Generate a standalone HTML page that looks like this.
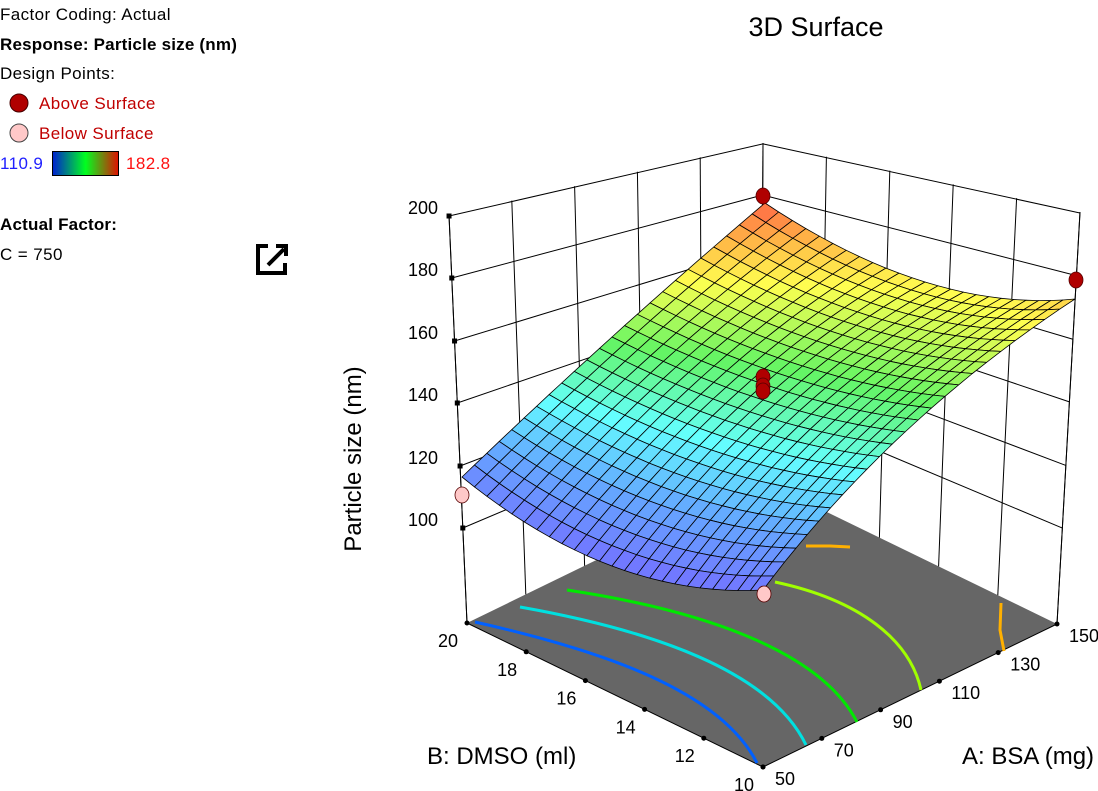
<!DOCTYPE html>
<html><head><meta charset="utf-8"><style>
body{margin:0;background:#fff;width:1098px;height:791px;overflow:hidden;font-family:"Liberation Sans",sans-serif;}
svg{position:absolute;left:0;top:0}
</style></head><body>
<svg id="s" width="1098" height="791" viewBox="0 0 1098 791" xmlns="http://www.w3.org/2000/svg" font-family="Liberation Sans, sans-serif">
<defs><linearGradient id="lg" x1="0" x2="1" y1="0" y2="0">
<stop offset="0" stop-color="#0020d0"/><stop offset="0.5" stop-color="#00ff20"/><stop offset="1" stop-color="#e01000"/></linearGradient></defs>
<g font-size="17" letter-spacing="0.4">
<text x="0" y="20" fill="#000">Factor Coding: Actual</text>
<text x="0" y="50" font-weight="bold" fill="#000" letter-spacing="0.2">Response: Particle size (nm)</text>
<text x="0" y="79" fill="#000">Design Points:</text>
<text x="39" y="109" fill="#c00000">Above Surface</text>
<text x="39" y="139" fill="#c00000">Below Surface</text>
<text x="0" y="169" fill="#2020ff">110.9</text>
<text x="126" y="169" fill="#ff1010">182.8</text>
<text x="0" y="230" font-weight="bold" fill="#000" letter-spacing="0.2">Actual Factor:</text>
<text x="0" y="260" fill="#000">C = 750</text>
</g>
<circle cx="19" cy="103" r="9" fill="#b00000" stroke="#400" stroke-width="1"/>
<circle cx="19" cy="133" r="9" fill="#ffc8c8" stroke="#444" stroke-width="1"/>
<rect x="52.5" y="151.5" width="66" height="24" fill="url(#lg)" stroke="#000"/>
<path d="M268 246 H258 V273 H285 V263" fill="none" stroke="#000" stroke-width="4"/>
<path d="M268 265 L284 249 M276 246 H286 V256" fill="none" stroke="#000" stroke-width="4"/>
<text x="816" y="36" font-size="27" text-anchor="middle" fill="#000">3D Surface</text>
<text transform="translate(361,459) rotate(-90)" font-size="24" text-anchor="middle" fill="#000">Particle size (nm)</text>
<text x="427" y="764" font-size="24" fill="#000">B: DMSO (ml)</text>
<text x="962" y="764" font-size="24" fill="#000">A: BSA (mg)</text>
<g id="g"></g>
</svg>
<script>
var g=document.getElementById('g'),out='';
function L(x1,y1,x2,y2,c,w){out+='<line x1="'+x1+'" y1="'+y1+'" x2="'+x2+'" y2="'+y2+'" stroke="'+(c||'#000')+'" stroke-width="'+(w||1)+'"/>';}
var LT=[449,215],LB=[467,623],BT=[763,143],BB=[761,480],RT=[1080,212],RB=[1057,624],FB=[763,767];
function lerp(a,b,t){return [a[0]+(b[0]-a[0])*t,a[1]+(b[1]-a[1])*t];}
out+='<polygon points="467,623 763,767 1057,624 761,480" fill="#666666"/>';
for(var i=0;i<=5;i++){var t=i/5;var a=lerp(LT,BT,t),b=lerp(LB,BB,t);L(a[0],a[1],b[0],b[1]);
 var c=lerp(BT,RT,t),d=lerp(BB,RB,t);L(c[0],c[1],d[0],d[1]);}
var zs=[216,278,341,403,466,528];
for(var k=0;k<6;k++){var f=(zs[k]-215)/408;var p=lerp(LT,LB,f),q=lerp(BT,BB,f*1.0),r=lerp(RT,RB,f);
 L(p[0],p[1],q[0],q[1]);L(q[0],q[1],r[0],r[1]);
 out+='<rect x="'+(p[0]-2.5)+'" y="'+(p[1]-2.5)+'" width="5" height="5" fill="#000"/>';}
L(LT[0],LT[1],LB[0],LB[1]);L(RT[0],RT[1],RB[0],RB[1]);
var zl=['200','180','160','140','120','100'];
for(var k=0;k<6;k++)out+='<text x="438" y="'+(zs[k]-2)+'" font-size="18" text-anchor="end">'+zl[k]+'</text>';
L(467,623,763,767);L(763,767,1057,624);
var bl=['20','18','16','14','12','10'],al=['50','70','90','110','130','150'];
for(var i=0;i<6;i++){var t=i/5;var p=lerp(LB,FB,t);out+='<circle cx="'+p[0]+'" cy="'+p[1]+'" r="2.5"/>';
 out+='<text x="'+(p[0]-9)+'" y="'+(p[1]+24)+'" font-size="18" text-anchor="end">'+bl[i]+'</text>';
 var q=lerp(FB,RB,t);out+='<circle cx="'+q[0]+'" cy="'+q[1]+'" r="2.5"/>';
 out+='<text x="'+(q[0]+12)+'" y="'+(q[1]+18)+'" font-size="18">'+al[i]+'</text>';}
out+='<g fill="none" stroke-width="3">';
out+='<path d="M475 622 C600 650 720 690 757 763" stroke="#0060ff"/>';
out+='<path d="M520 607 C650 630 770 670 806 745" stroke="#00e0e0"/>';
out+='<path d="M567 590 C700 610 820 650 857 722" stroke="#00e800"/>';
out+='<path d="M775 582 C860 600 910 640 921 690" stroke="#a0ff00"/>';
out+='<path d="M1001 603 L1000 630 L1004 651" stroke="#ffb000"/>';
out+='<path d="M806 546 L830 546 L850 547" stroke="#ffb000"/>';
out+='</g>';
var P=[[[763,590],[612,566],[462,477]],[[905,432],[763,400],[612,337]],[[1075,299],[925,282],[765,203]]];
var V=[[0.02,0.0,0.08],[0.5,0.5,0.6],[0.86,0.8,1.0]];
function Lg(u){return [2*(u-.5)*(u-1),4*u*(1-u),2*u*(u-.5)];}
function ev(a,b){var la=Lg(a),lb=Lg(b),x=0,y=0,v=0;for(var i=0;i<3;i++)for(var j=0;j<3;j++){var w=la[i]*lb[j];x+=w*P[i][j][0];y+=w*P[i][j][1];v+=w*V[i][j];}return [x,y,v];}
var st=[[0,115,115,255],[0.2,100,170,255],[0.38,100,255,255],[0.58,100,245,100],[0.78,255,255,80],[0.9,255,180,70],[1,255,100,70]];
function col(t){t=Math.max(0,Math.min(1,t));for(var i=1;i<st.length;i++)if(t<=st[i][0]){var a=st[i-1],b=st[i],f=(t-a[0])/(b[0]-a[0]);return 'rgb('+Math.round(a[1]+(b[1]-a[1])*f)+','+Math.round(a[2]+(b[2]-a[2])*f)+','+Math.round(a[3]+(b[3]-a[3])*f)+')';}return 'rgb(255,100,70)';}
var N=24,cells=[];
for(var i=0;i<N;i++)for(var j=0;j<N;j++)cells.push([i,j]);
cells.sort(function(p,q){return (q[0]+q[1])-(p[0]+p[1]);});
for(var c=0;c<cells.length;c++){var i=cells[c][0],j=cells[c][1];
 var p1=ev(i/N,j/N),p2=ev((i+1)/N,j/N),p3=ev((i+1)/N,(j+1)/N),p4=ev(i/N,(j+1)/N),m=ev((i+.5)/N,(j+.5)/N);
 out+='<polygon points="'+[p1,p2,p3,p4].map(function(p){return p[0].toFixed(1)+','+p[1].toFixed(1);}).join(' ')+'" fill="'+col(m[2])+'" stroke="#000" stroke-width="0.8" stroke-linejoin="round"/>';}
function pt(x,y,f){out+='<ellipse cx="'+x+'" cy="'+y+'" rx="7" ry="8" fill="'+f+'" stroke="#500" stroke-width="0.8"/>';}
pt(763,196,'#b00000');pt(1076,280,'#b00000');pt(763,377,'#b00000');pt(763,386,'#b00000');pt(763,391,'#b00000');
pt(462,495,'#ffc8c8');pt(764,594,'#ffc8c8');
g.innerHTML=out;
</script>
</body></html>
